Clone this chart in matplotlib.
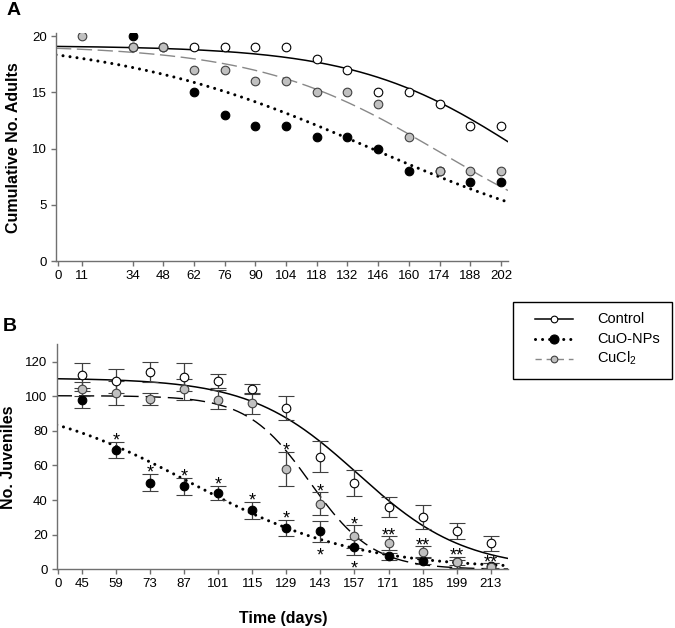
import numpy as np
import matplotlib.pyplot as plt
from matplotlib.lines import Line2D
from matplotlib.patches import Rectangle

plt.rcParams['font.family'] = ['Liberation Sans', 'DejaVu Sans']
plt.rcParams['mathtext.fontset'] = 'custom'
plt.rcParams['mathtext.rm'] = 'Liberation Sans'

# ---- panel A: cumulative adults ----
a_ticks = [0, 11, 34, 48, 62, 76, 90, 104, 118, 132, 146, 160, 174, 188, 202]
a_ctrl_days = [34, 48, 62, 76, 90, 104, 118, 132, 146, 160, 174, 188, 202]
a_ctrl = [19, 19, 19, 19, 19, 19, 18, 17, 15, 15, 14, 12, 12]
a_cuo_days = [34, 62, 76, 90, 104, 118, 132, 146, 160, 174, 188, 202]
a_cuo = [20, 15, 13, 12, 12, 11, 11, 10, 8, 8, 7, 7]
a_cucl_days = [11, 34, 48, 62, 76, 90, 104, 118, 132, 146, 160, 174, 188, 202]
a_cucl = [20, 19, 19, 17, 17, 16, 16, 15, 15, 14, 11, 8, 8, 8]
# fitted sigmoid params (top, midpoint, width)
a_ctrl_fit = (19.15, 213.5, 38.5)
a_cuo_fit = (20.0, 143.0, 60.0)
a_cucl_fit = (19.2, 174.8, 42.0)

# ---- panel B: juveniles ----
b_days = [45, 59, 73, 87, 101, 115, 129, 143, 157, 171, 185, 199, 213]
b_tick_labels = ['0'] + [str(d) for d in b_days]
b_ctrl = [112, 109, 114, 111, 109, 104, 93, 65, 50, 36, 30, 22, 15]
b_ctrl_err = [7, 7, 6, 8, 4, 3, 7, 9, 7.5, 6, 7, 4.7, 4.5]
b_cuo = [98, 69, 50, 48, 44, 34, 24, 22, 13, 7.5, 5, 4, 2]
b_cuo_err = [5, 4.7, 5, 5, 4, 4.7, 4.5, 6, 4.5, 2, 2, 1.5, 1.5]
b_cucl = [104, 102, 98.5, 104, 98, 96, 58, 38, 19, 15, 10, 4, 1.5]
b_cucl_err = [4, 7, 3.5, 6, 5.5, 6, 10, 6.5, 6.5, 4, 3.5, 3.3, 2]
b_cuo_stars_up = ['', '*', '*', '*', '*', '*', '*', '', '', '', '', '', '']
b_cuo_stars_down = ['', '', '', '', '', '', '', '*', '*', '', '', '', '']
b_cucl_stars = ['', '', '', '', '', '', '*', '*', '*', '**', '**', '**', '**']
b_ctrl_fit = (110.5, 158.3, 22.0)
b_cuo_fit = (100.0, 89.7, 34.0)
b_cucl_fit = (100.3, 138.8, 12.9)
b_zero_pos = 35.4   # where the "0" label sits on the day axis

legend_labels = ['Control', 'CuO-NPs', 'CuCl$_2$']


def sigmoid(x, top, mid, width):
    return top / (1 + np.exp((x - mid) / width))


W, H = 675, 628
fig = plt.figure(figsize=(W / 100, H / 100), dpi=100)
spine_col = '#707070'
ms = 6.2
tick_fs = 9.5
lab_fs = 11.5


def fx(px):
    return px / W


def fy(py):
    return 1 - py / H


def style(ax):
    for s in ['top', 'right']:
        ax.spines[s].set_visible(False)
    for s in ['left', 'bottom']:
        ax.spines[s].set_color(spine_col)
        ax.spines[s].set_linewidth(1.0)
    ax.tick_params(length=3.5, width=1.0, color=spine_col, labelsize=tick_fs, pad=3)


dotted = (0, (0.01, 2.3))

# panel A
axA = fig.add_axes([fx(56), fy(261), 452 / W, 228 / H])
style(axA)
xa = np.linspace(-0.9, 205.2, 300)
axA.plot(xa, sigmoid(xa, *a_ctrl_fit), color='black', lw=1.1)
axA.plot(xa, sigmoid(xa, *a_cucl_fit), color='#888888', lw=1.0, dashes=(11, 4))
axA.plot(xa, sigmoid(xa, *a_cuo_fit), color='black', lw=2.2, linestyle=dotted,
         dash_capstyle='round')
axA.plot(a_ctrl_days, a_ctrl, 'o', ms=ms, mfc='white', mec='black', mew=0.8)
axA.plot(a_cuo_days, a_cuo, 'o', ms=ms, mfc='black', mec='black', mew=0.8)
axA.plot(a_cucl_days, a_cucl, 'o', ms=ms, mfc='#c0c0c0', mec='#404040', mew=0.8)
axA.set_xlim(-0.9, 205.2)
axA.set_ylim(0, 20.27)
axA.set_xticks(a_ticks)
axA.set_yticks([0, 5, 10, 15, 20])
fig.text(fx(14), fy(148), 'Cumulative No. Adults', rotation=90, ha='center',
         va='center', fontsize=lab_fs, fontweight='bold')
fig.text(fx(7), fy(2), 'A', ha='left', va='top', fontsize=14, fontweight='bold')

# panel B
axB = fig.add_axes([fx(56.7), fy(569.3), 451.6 / W, 225 / H])
style(axB)
xb = np.linspace(34.7, 220.2, 300)
axB.plot(xb, sigmoid(xb, *b_ctrl_fit), color='black', lw=1.1)
axB.plot(xb, sigmoid(xb, *b_cucl_fit), color='black', lw=1.0, dashes=(11, 5))
axB.plot(xb, sigmoid(xb, *b_cuo_fit), color='black', lw=2.2, linestyle=dotted,
         dash_capstyle='round')
eb = dict(ecolor='#404040', elinewidth=0.9, capsize=5.5, capthick=0.9, ls='none')
axB.errorbar(b_days, b_ctrl, yerr=b_ctrl_err, fmt='o', ms=ms, mfc='white',
             mec='black', mew=0.8, **eb)
axB.errorbar(b_days, b_cuo, yerr=b_cuo_err, fmt='o', ms=ms, mfc='black',
             mec='black', mew=0.8, **eb)
axB.errorbar(b_days, b_cucl, yerr=b_cucl_err, fmt='o', ms=ms, mfc='#c0c0c0',
             mec='#404040', mew=0.8, **eb)
star_fs = 13
for d, v, e, s in zip(b_days, b_cuo, b_cuo_err, b_cuo_stars_up):
    if s:
        axB.annotate(s, (d, v + e), xytext=(0, -2.5), textcoords='offset points',
                     ha='center', va='baseline', fontsize=star_fs)
for d, v, e, s in zip(b_days, b_cuo, b_cuo_err, b_cuo_stars_down):
    if s:
        axB.annotate(s, (d, v - e), xytext=(0, -13.5), textcoords='offset points',
                     ha='center', va='baseline', fontsize=star_fs)
for d, v, e, s in zip(b_days, b_cucl, b_cucl_err, b_cucl_stars):
    if s:
        axB.annotate(s, (d, v + e), xytext=(0, -3), textcoords='offset points',
                     ha='center', va='baseline', fontsize=star_fs)
axB.set_xlim(34.7, 220.2)
axB.set_ylim(0, 130)
axB.set_xticks([b_zero_pos] + b_days)
axB.set_xticklabels(b_tick_labels)
axB.set_yticks([0, 20, 40, 60, 80, 100, 120])
fig.text(fx(9), fy(457), 'No. Juveniles', rotation=90, ha='center',
         va='center', fontsize=lab_fs, fontweight='bold')
fig.text(fx(283), fy(618), 'Time (days)', ha='center', va='center',
         fontsize=lab_fs, fontweight='bold')
fig.text(fx(3), fy(318), 'B', ha='left', va='top', fontsize=14, fontweight='bold')

# legend drawn by hand so the box matches the original
fig.add_artist(Rectangle((fx(513), fy(379)), (672 - 513) / W, (379 - 302) / H,
                         transform=fig.transFigure, fill=False, ec='black', lw=1.0))
leg_styles = [
    dict(color='black', lw=1.1, marker='o', ms=4.8, mfc='white', mec='black'),
    dict(color='black', lw=2.2, linestyle=dotted, dash_capstyle='round',
         marker='o', ms=6.5, mfc='black', mec='black'),
    dict(color='#888888', lw=1.0, dashes=(4.5, 3.5), marker='o', ms=4.8,
         mfc='#c0c0c0', mec='#404040'),
]
for row_y, lab, st in zip([319, 339, 358.5], legend_labels, leg_styles):
    fig.add_artist(Line2D([fx(535), fx(573)], [fy(row_y)] * 2,
                          transform=fig.transFigure,
                          **{k: v for k, v in st.items() if k not in
                             ('marker', 'ms', 'mfc', 'mec')}))
    fig.add_artist(Line2D([fx(554)], [fy(row_y)], transform=fig.transFigure,
                          ls='none', marker='o', ms=st['ms'], mfc=st['mfc'],
                          mec=st['mec'], mew=0.8))
    fig.text(fx(597), fy(row_y), lab, ha='left', va='center', fontsize=10.5)

fig.savefig('out.png', dpi=100)
